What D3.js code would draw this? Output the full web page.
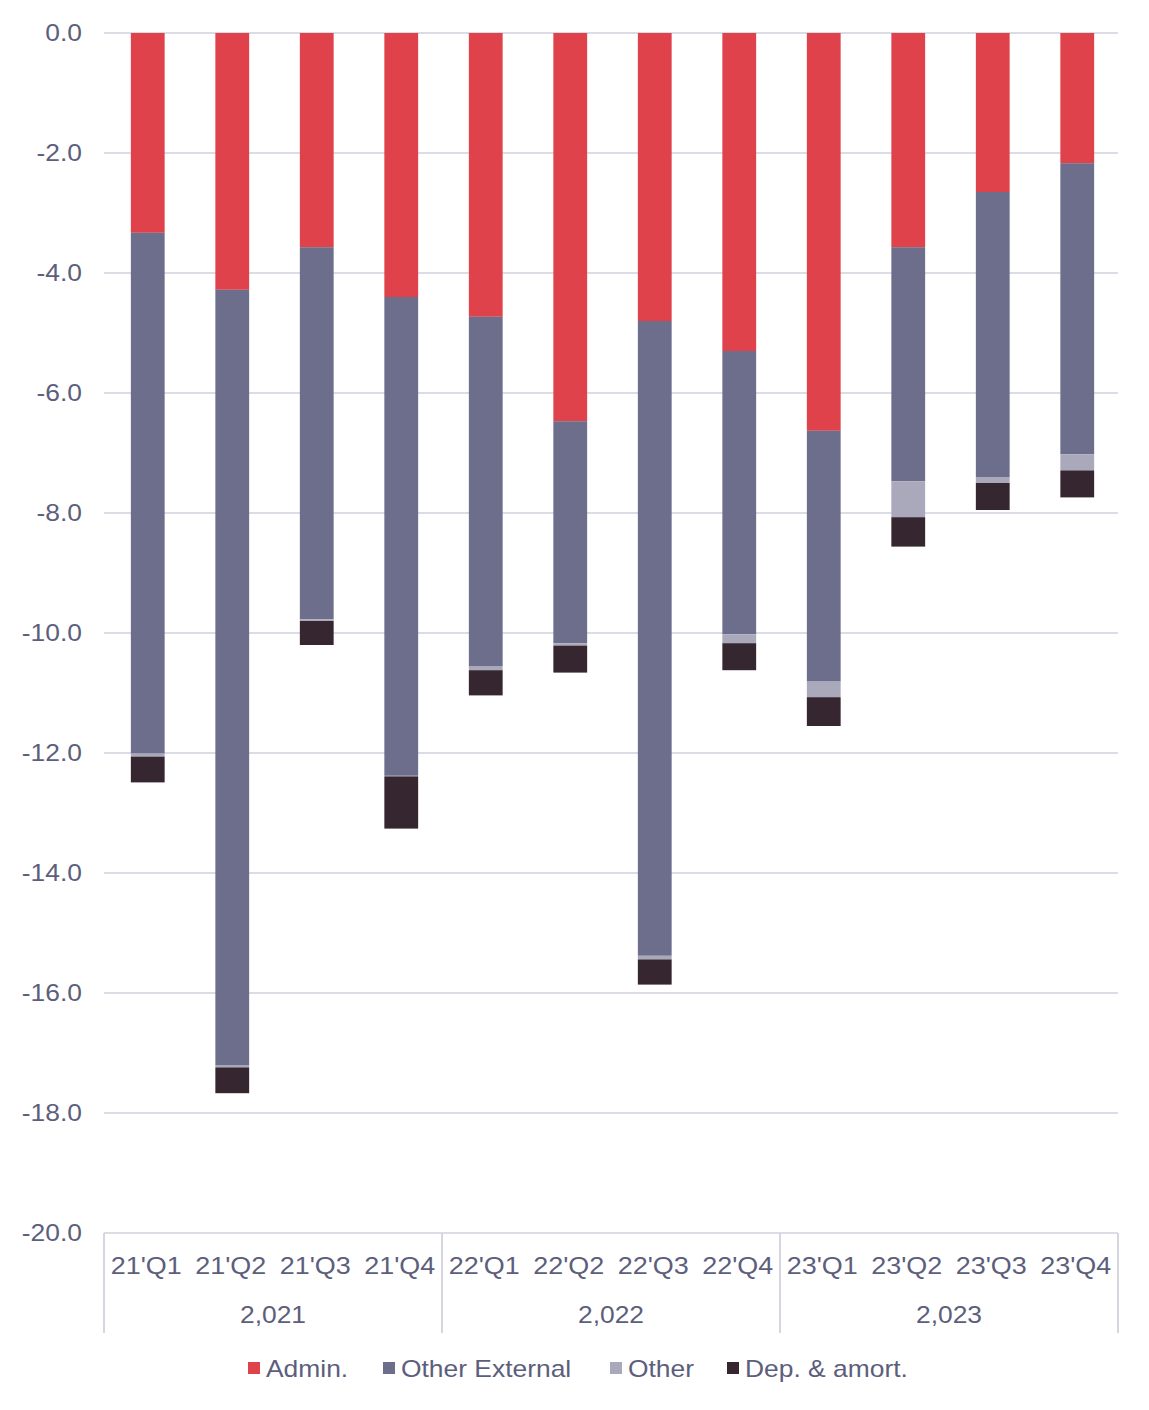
<!DOCTYPE html>
<html><head><meta charset="utf-8">
<script src="https://cdn.jsdelivr.net/npm/d3@7"></script>
<style>body{margin:0;background:#fff;} svg{display:block;font-family:"Liberation Sans",Arial,sans-serif;}</style>
</head><body>
<svg id="c" width="1149" height="1410"></svg>
<script>
const categories = ["21'Q1","21'Q2","21'Q3","21'Q4","22'Q1","22'Q2","22'Q3","22'Q4","23'Q1","23'Q2","23'Q3","23'Q4"];
const years = ["2,021","2,022","2,023"];
const seriesNames = ["Admin.","Other External","Other","Dep. & amort."];
const admin =         [-3.33,-4.28,-3.57,-4.40,-4.73,-6.47,-4.80,-5.30,-6.63,-3.57,-2.65,-2.17];
const otherExternal = [-8.68,-12.93,-6.20,-7.98,-5.82,-3.70,-10.58,-4.72,-4.18,-3.90,-4.75,-4.85];
const other =         [-0.05,-0.03,-0.03,-0.01,-0.07,-0.04,-0.06,-0.15,-0.26,-0.60,-0.10,-0.27];
const depAmort =      [-0.43,-0.43,-0.40,-0.87,-0.42,-0.45,-0.42,-0.45,-0.48,-0.49,-0.45,-0.45];
const yTicks = [0,-2,-4,-6,-8,-10,-12,-14,-16,-18,-20];
const colors = ["#e0424b","#6d6e8c","#a9a9bb","#362630"];

(function(){
const svg = d3.select("#c");
const mL = 104, mR = 1118, mT = 33, mB = 1233;
const x = d3.scaleBand().domain(categories).range([mL+1.5,mR+1.5]).paddingInner(0.6).paddingOuter(0.3);
const xb = d3.scaleBand().domain(categories).range([mL,mR]);
const y = d3.scaleLinear().domain([0,-20]).range([mT,mB]);
const textCol = "#5c5e7c";
const stretch = sel => sel.each(function(){
  const w = this.getComputedTextLength();
  d3.select(this).attr("textLength", w*1.1).attr("lengthAdjust","spacingAndGlyphs");
});

svg.append("g").selectAll("line").data(yTicks).join("line")
  .attr("x1",mL).attr("x2",mR).attr("y1",d=>y(d)).attr("y2",d=>y(d))
  .attr("stroke","#dcdce6").attr("stroke-width",2);
const yAxis = d3.axisLeft(y).tickValues(yTicks).tickFormat(d=>d.toFixed(1)).tickSize(0).tickPadding(22);
const ga = svg.append("g").attr("transform",`translate(${mL},0)`).call(yAxis);
ga.select(".domain").remove();
ga.selectAll("text").attr("font-size",24).attr("fill",textCol).attr("font-family","Liberation Sans, Arial, sans-serif").call(stretch);

const table = categories.map((c,i)=>({cat:c, s0:admin[i], s1:otherExternal[i], s2:other[i], s3:depAmort[i]}));
const stack = d3.stack().keys(["s0","s1","s2","s3"]).offset(d3.stackOffsetDiverging);
const layers = stack(table);
svg.append("g").selectAll("g").data(layers).join("g").attr("fill",(d,i)=>colors[i])
  .selectAll("rect").data(d=>d).join("rect")
  .attr("x",d=>x(d.data.cat)).attr("width",x.bandwidth())
  .attr("y",d=>y(Math.max(d[0],d[1]))).attr("height",d=>Math.abs(y(d[1])-y(d[0])));

const xAxis = d3.axisBottom(xb).tickSize(0).tickPadding(24);
const gx = svg.append("g").attr("transform",`translate(0,${mB})`).call(xAxis);
gx.select(".domain").remove();
gx.selectAll("text").attr("font-size",24).attr("fill",textCol).attr("font-family","Liberation Sans, Arial, sans-serif")
  .attr("textLength",71).attr("lengthAdjust","spacingAndGlyphs");

const groupEdges = [0,4,8,12].map(i=> i<12 ? xb(categories[i]) : mR);
svg.append("g").selectAll("line").data(groupEdges).join("line")
  .attr("x1",d=>d).attr("x2",d=>d).attr("y1",mB).attr("y2",mB+100)
  .attr("stroke","#d6d6e0").attr("stroke-width",2);
svg.append("g").selectAll("text").data(years).join("text")
  .attr("x",(d,i)=>(groupEdges[i]+groupEdges[i+1])/2).attr("y",mB+90)
  .attr("text-anchor","middle").attr("font-size",24).attr("fill",textCol).text(d=>d).call(stretch);

const legendX = [248,383,610,727];
const lg = svg.append("g").selectAll("g").data(seriesNames).join("g")
  .attr("transform",(d,i)=>`translate(${legendX[i]},1368)`);
lg.append("rect").attr("x",0).attr("y",-6).attr("width",12).attr("height",12).attr("fill",(d,i)=>colors[i]);
lg.append("text").attr("x",18).attr("y",9).attr("font-size",24).attr("fill",textCol).text(d=>d).call(stretch);
})();
</script>
</body></html>
